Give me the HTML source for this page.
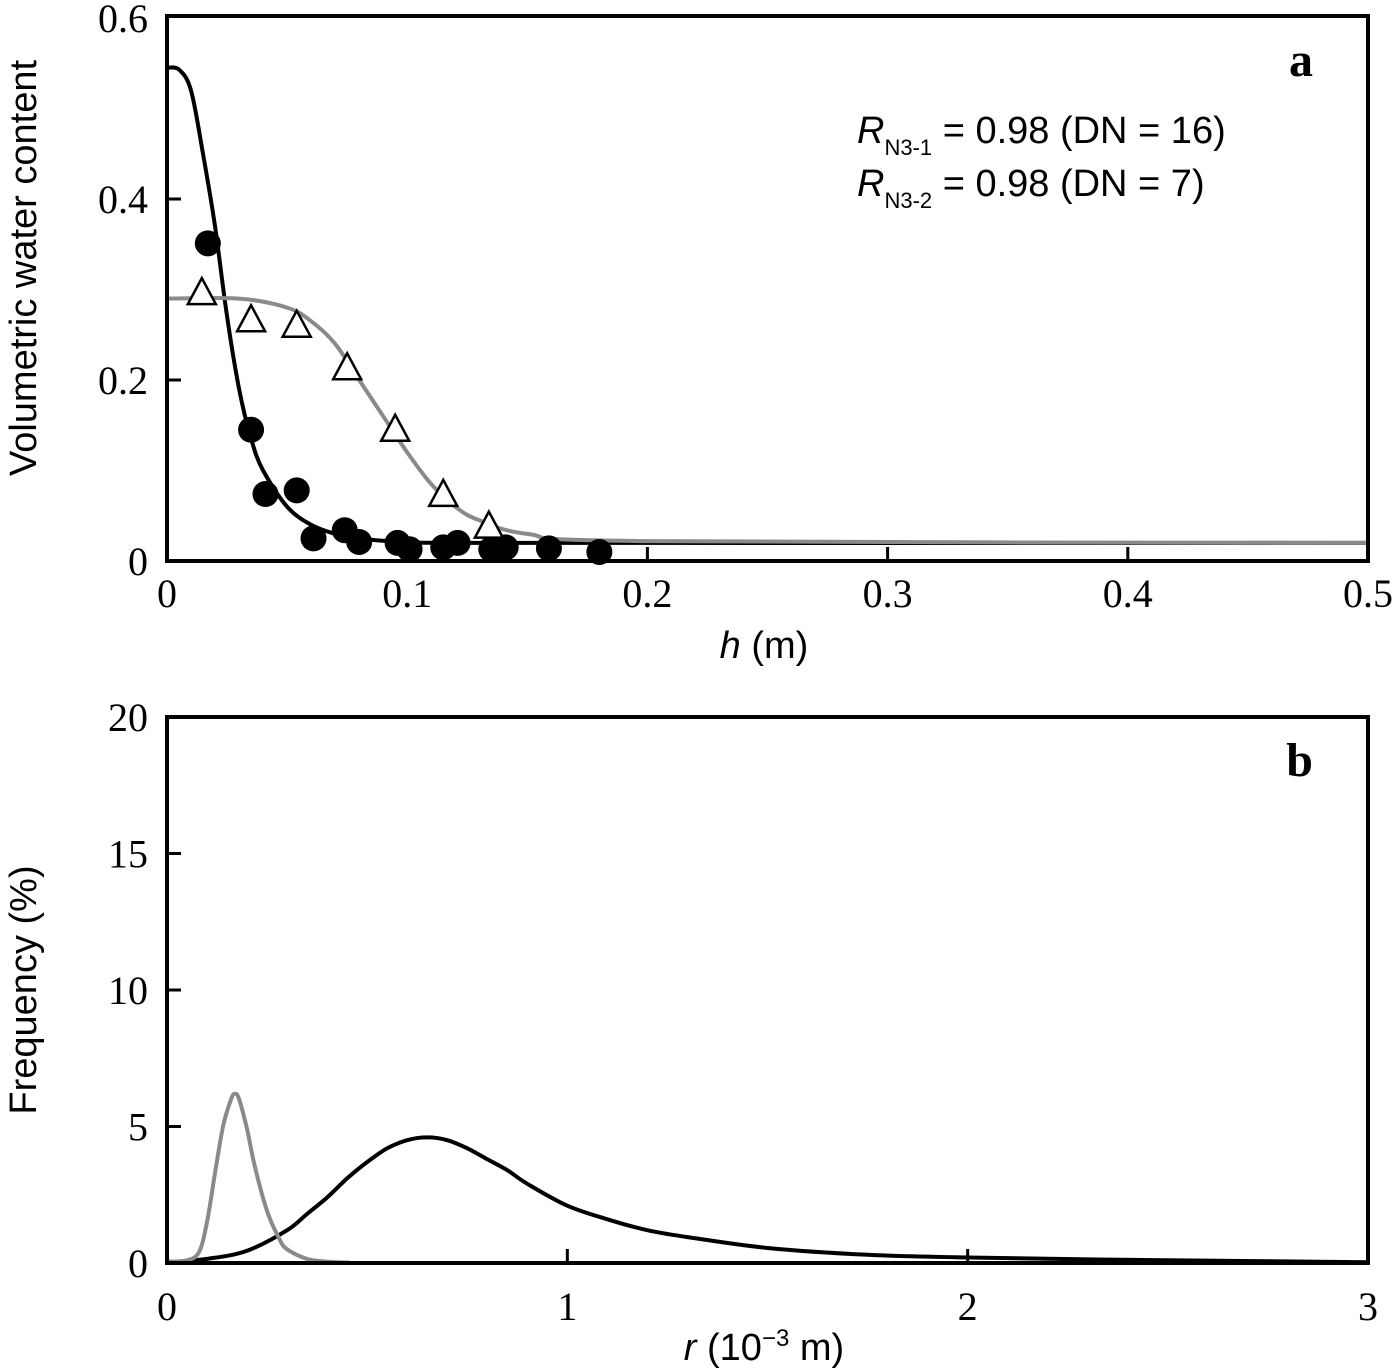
<!DOCTYPE html>
<html><head><meta charset="utf-8"><style>
html,body{margin:0;padding:0;background:#fff;}
svg{display:block;}
.tick{font-family:"Liberation Serif",serif;font-size:40px;fill:#000;}
.ttl{font-family:"Liberation Sans",sans-serif;font-size:38px;fill:#000;}
</style></head><body>
<svg id="chart" width="1400" height="1370" viewBox="0 0 1400 1370" xmlns="http://www.w3.org/2000/svg"></svg>
<script>
// Panel a data
const aCircleH=[0.017,0.035,0.041,0.054,0.061,0.074,0.080,0.096,0.101,0.115,0.121,0.135,0.141,0.159,0.180];
const aCircleV=[0.351,0.145,0.074,0.078,0.025,0.034,0.021,0.020,0.013,0.015,0.020,0.013,0.015,0.014,0.010];
const aTriH=[0.0145,0.035,0.054,0.075,0.095,0.115,0.134];
const aTriV=[0.296,0.266,0.260,0.213,0.145,0.073,0.038];
const aBlackH=[0,0.005,0.01,0.015,0.02,0.025,0.03,0.035,0.04,0.05,0.06,0.07,0.08,0.1,0.15,0.5];
const aBlackV=[0.545,0.543,0.52,0.45,0.37,0.27,0.19,0.135,0.10,0.06,0.04,0.03,0.025,0.021,0.02,0.02];
const aGrayH=[0,0.03,0.05,0.06,0.07,0.08,0.09,0.1,0.11,0.12,0.13,0.15,0.2,0.5];
const aGrayV=[0.29,0.29,0.28,0.265,0.24,0.2,0.16,0.12,0.085,0.06,0.045,0.03,0.022,0.02];
const aXTicks=[0,0.1,0.2,0.3,0.4,0.5];
const aXLabels=["0","0.1","0.2","0.3","0.4","0.5"];
const aYTicks=[0,0.2,0.4,0.6];
const aYLabels=["0","0.2","0.4","0.6"];
// Panel b data
const bGrayR=[0,0.05,0.08,0.1,0.12,0.14,0.16,0.17,0.18,0.2,0.22,0.25,0.28,0.3,0.35,0.4,0.45,0.6,3];
const bGrayF=[0.05,0.1,0.4,1.5,3.3,5.0,6.0,6.2,6.0,4.9,3.5,1.9,0.9,0.5,0.15,0.05,0.02,0,0];
const bBlackR=[0,0.1,0.2,0.3,0.35,0.4,0.45,0.5,0.55,0.6,0.65,0.7,0.75,0.8,0.85,0.9,1.0,1.1,1.2,1.3,1.5,1.75,2.0,2.5,3.0];
const bBlackF=[0.02,0.15,0.45,1.2,1.8,2.4,3.1,3.7,4.2,4.5,4.6,4.5,4.2,3.8,3.4,2.9,2.1,1.6,1.2,0.95,0.55,0.3,0.2,0.1,0.03];
const bXTicks=[0,1,2,3];
const bYTicks=[0,5,10,15,20];

const svg=document.getElementById('chart');
const NS='http://www.w3.org/2000/svg';
function mk(tag,attrs,parent){const e=document.createElementNS(NS,tag);for(const k in attrs)e.setAttribute(k,attrs[k]);(parent||svg).appendChild(e);return e;}

const L=167,R=1368;
const ax=h=>L+h/0.5*(R-L);
const ay=v=>561-v/0.6*(561-18);
const bx=r=>L+r/3*(R-L);
const by=f=>1263-f/20*(1263-717);

function smoothPath(xs,ys,fx,fy){
  const p=xs.map((x,i)=>[fx(x),fy(ys[i])]);
  let d='M'+p[0][0]+' '+p[0][1];
  for(let i=0;i<p.length-1;i++){
    const p0=p[i-1]||p[i],p1=p[i],p2=p[i+1],p3=p[i+2]||p2;
    const c1=[p1[0]+(p2[0]-p0[0])/6,p1[1]+(p2[1]-p0[1])/6];
    const c2=[p2[0]-(p3[0]-p1[0])/6,p2[1]-(p3[1]-p1[1])/6];
    d+=` C${c1[0].toFixed(1)} ${c1[1].toFixed(1)} ${c2[0].toFixed(1)} ${c2[1].toFixed(1)} ${p2[0].toFixed(1)} ${p2[1].toFixed(1)}`;
  }
  return d;
}

// ---- Panel a ----
const ga=mk('g',{});


let e;
e=mk('path',{d:smoothPath(aBlackH,aBlackV,ax,ay),fill:'none',stroke:'#000','stroke-width':4},ga);


e=mk('path',{d:smoothPath(aGrayH,aGrayV,ax,ay),fill:'none',stroke:'#8a8a8a','stroke-width':4},ga);


aCircleH.forEach((h,i)=>{
  const c=mk('circle',{cx:ax(h),cy:ay(aCircleV[i]),r:13,fill:'#000'},ga);
  
  
});
aTriH.forEach((h,i)=>{
  const x=ax(h),y=ay(aTriV[i]);
  const t=mk('polygon',{points:`${x},${y-15} ${x-14},${y+11} ${x+14},${y+11}`,fill:'#fff',stroke:'#000','stroke-width':2.5},ga);
  
  
});
e=mk('rect',{x:L,y:16,width:R-L,height:545,fill:'none',stroke:'#000','stroke-width':4},ga);


aXTicks.forEach((t,i)=>{
  const x=ax(t);
  if(i>0&&i<aXTicks.length-1){const tk=mk('line',{x1:x,x2:x,y1:561,y2:547,stroke:'#000','stroke-width':3},ga);
  
  }
  const tx=mk('text',{x:x,y:607,'text-anchor':'middle',class:'tick'},ga);tx.textContent=aXLabels[i];
  
  
});
aYTicks.forEach((t,i)=>{
  const y=ay(t);
  if(i>0&&i<aYTicks.length-1){const tk=mk('line',{x1:L,x2:L+14,y1:y,y2:y,stroke:'#000','stroke-width':3},ga);
  
  }
  const tx=mk('text',{x:148,y:y+14,'text-anchor':'end',class:'tick'},ga);tx.textContent=aYLabels[i];
  
  
});

// ---- Panel b ----
const gb=mk('g',{});


e=mk('path',{d:smoothPath(bBlackR,bBlackF,bx,by),fill:'none',stroke:'#000','stroke-width':4},gb);


e=mk('path',{d:smoothPath(bGrayR,bGrayF,bx,by),fill:'none',stroke:'#8a8a8a','stroke-width':4},gb);


e=mk('rect',{x:L,y:717,width:R-L,height:546,fill:'none',stroke:'#000','stroke-width':4},gb);


bXTicks.forEach((t,i)=>{
  const x=bx(t);
  if(i>0&&i<bXTicks.length-1){const tk=mk('line',{x1:x,x2:x,y1:1263,y2:1249,stroke:'#000','stroke-width':3},gb);
  
  }
  const tx=mk('text',{x:x,y:1320,'text-anchor':'middle',class:'tick'},gb);tx.textContent=String(t);
  
  
});
bYTicks.forEach((t,i)=>{
  const y=by(t);
  if(i>0&&i<bYTicks.length-1){const tk=mk('line',{x1:L,x2:L+14,y1:y,y2:y,stroke:'#000','stroke-width':3},gb);
  
  }
  const tx=mk('text',{x:148,y:y+14,'text-anchor':'end',class:'tick'},gb);tx.textContent=String(t);
  
  
});
</script>
<script>
(function(){
const svg=document.getElementById('chart');
const NS='http://www.w3.org/2000/svg';
function mk(tag,attrs,html){const e=document.createElementNS(NS,tag);for(const k in attrs)e.setAttribute(k,attrs[k]);if(html)e.innerHTML=html;svg.appendChild(e);return e;}
let e;
e=mk('text',{x:764,y:658,'text-anchor':'middle',class:'ttl'},'<tspan font-style="italic">h</tspan> (m)');


e=mk('text',{transform:'translate(36,268) rotate(-90)','text-anchor':'middle',class:'ttl'},'Volumetric water content');


e=mk('text',{x:1313,y:76,'text-anchor':'end','font-family':'Liberation Serif, serif','font-weight':'bold','font-size':'48'},'a');


e=mk('text',{x:857,y:143,class:'ttl'},'<tspan font-style="italic">R</tspan><tspan font-size="22" dy="12">N3-1</tspan><tspan dy="-12"> = 0.98 (DN = 16)</tspan>');


e=mk('text',{x:857,y:196,class:'ttl'},'<tspan font-style="italic">R</tspan><tspan font-size="22" dy="12">N3-2</tspan><tspan dy="-12"> = 0.98 (DN = 7)</tspan>');


e=mk('text',{x:764,y:1360,'text-anchor':'middle',class:'ttl'},'<tspan font-style="italic">r</tspan> (10<tspan font-size="24" dy="-14">−3</tspan><tspan dy="14"> m)</tspan>');


e=mk('text',{transform:'translate(36,990) rotate(-90)','text-anchor':'middle',class:'ttl'},'Frequency (%)');


e=mk('text',{x:1313,y:776,'text-anchor':'end','font-family':'Liberation Serif, serif','font-weight':'bold','font-size':'48'},'b');


})();
</script>
</body></html>
